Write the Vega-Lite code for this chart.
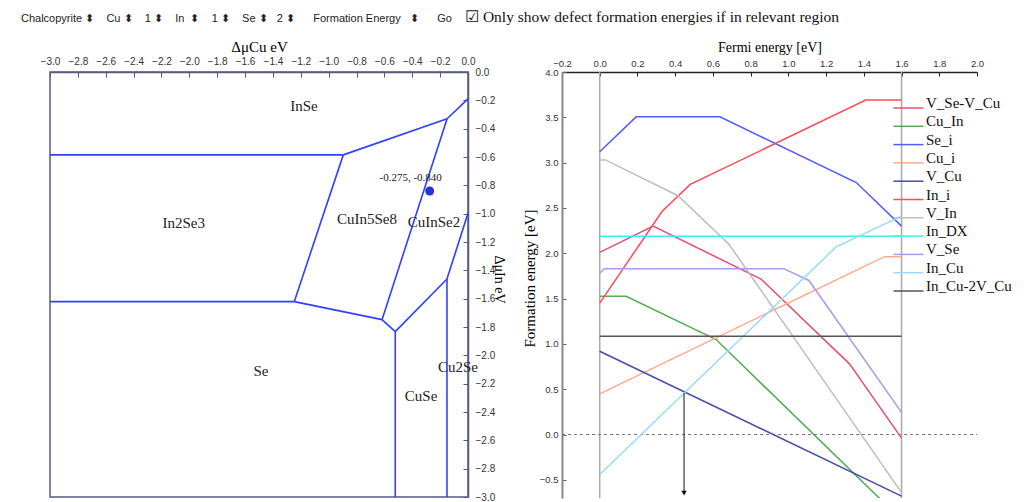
{
  "$schema": "https://vega.github.io/schema/vega-lite/v6.json",
  "background": "white",
  "padding": {"left": 20, "top": 10, "right": 0, "bottom": 0},
  "bounds": "flush",
  "spacing": 94,
  "resolve": {"scale": {"color": "independent"}, "legend": {"color": "independent"}},
  "config": {
    "view": {"stroke": null},
    "axis": {"grid": false, "labelFont": "Liberation Sans", "titleFont": "Liberation Serif", "titleFontWeight": "normal", "titleColor": "#000", "labelFlush": false, "labelOverlap": false}
  },
  "datasets": {
    "segments": [
      {"x": 0, "y": -0.19, "x2": -0.15, "y2": -0.33},
      {"x": -0.15, "y": -0.33, "x2": -0.895, "y2": -0.585},
      {"x": -0.895, "y": -0.585, "x2": -3, "y2": -0.585},
      {"x": -0.895, "y": -0.585, "x2": -1.247, "y2": -1.621},
      {"x": -1.247, "y": -1.621, "x2": -3, "y2": -1.621},
      {"x": -1.247, "y": -1.621, "x2": -0.617, "y2": -1.748},
      {"x": -0.15, "y": -0.33, "x2": -0.617, "y2": -1.748},
      {"x": -0.617, "y": -1.748, "x2": -0.522, "y2": -1.833},
      {"x": -0.522, "y": -1.833, "x2": -0.522, "y2": -3},
      {"x": -0.522, "y": -1.833, "x2": -0.151, "y2": -1.461},
      {"x": -0.151, "y": -1.461, "x2": -0.151, "y2": -3},
      {"x": -0.151, "y": -1.461, "x2": 0, "y2": -0.997}
    ],
    "regions": [
      {"name": "InSe", "x": -1.177, "y": -0.24},
      {"name": "In2Se3", "x": -2.04, "y": -1.066},
      {"name": "CuIn5Se8", "x": -0.725, "y": -1.04},
      {"name": "CuInSe2", "x": -0.244, "y": -1.06},
      {"name": "Se", "x": -1.486, "y": -2.11},
      {"name": "CuSe", "x": -0.337, "y": -2.29},
      {"name": "Cu2Se", "x": -0.072, "y": -2.085}
    ],
    "chosen": [
      {"x": -0.275, "y": -0.84, "label": "-0.275, -0.840"}
    ],
    "defects": [
      {"defect": "V_Se-V_Cu", "ef": 0, "e": 2.01},
      {"defect": "V_Se-V_Cu", "ef": 0.283, "e": 2.30},
      {"defect": "V_Se-V_Cu", "ef": 0.855, "e": 1.716},
      {"defect": "V_Se-V_Cu", "ef": 1.324, "e": 0.78},
      {"defect": "V_Se-V_Cu", "ef": 1.6, "e": -0.04},
      {"defect": "Cu_In", "ef": 0, "e": 1.526},
      {"defect": "Cu_In", "ef": 0.14, "e": 1.526},
      {"defect": "Cu_In", "ef": 0.617, "e": 1.048},
      {"defect": "Cu_In", "ef": 1.6, "e": -0.94},
      {"defect": "Se_i", "ef": 0, "e": 3.12},
      {"defect": "Se_i", "ef": 0.193, "e": 3.505},
      {"defect": "Se_i", "ef": 0.637, "e": 3.505},
      {"defect": "Se_i", "ef": 1.36, "e": 2.78},
      {"defect": "Se_i", "ef": 1.6, "e": 2.30},
      {"defect": "Cu_i", "ef": 0, "e": 0.449},
      {"defect": "Cu_i", "ef": 1.51, "e": 1.963},
      {"defect": "Cu_i", "ef": 1.6, "e": 1.963},
      {"defect": "V_Cu", "ef": 0, "e": 0.919},
      {"defect": "V_Cu", "ef": 1.6, "e": -0.68},
      {"defect": "In_i", "ef": 0, "e": 1.45},
      {"defect": "In_i", "ef": 0.33, "e": 2.46},
      {"defect": "In_i", "ef": 0.48, "e": 2.76},
      {"defect": "In_i", "ef": 1.41, "e": 3.69},
      {"defect": "In_i", "ef": 1.6, "e": 3.69},
      {"defect": "V_In", "ef": 0, "e": 3.03},
      {"defect": "V_In", "ef": 0.03, "e": 3.03},
      {"defect": "V_In", "ef": 0.415, "e": 2.635},
      {"defect": "V_In", "ef": 0.685, "e": 2.10},
      {"defect": "V_In", "ef": 1.6, "e": -0.64},
      {"defect": "In_DX", "ef": 0, "e": 2.187},
      {"defect": "In_DX", "ef": 1.6, "e": 2.187},
      {"defect": "V_Se", "ef": 0, "e": 1.78},
      {"defect": "V_Se", "ef": 0.024, "e": 1.83},
      {"defect": "V_Se", "ef": 0.976, "e": 1.83},
      {"defect": "V_Se", "ef": 1.109, "e": 1.70},
      {"defect": "V_Se", "ef": 1.6, "e": 0.245},
      {"defect": "In_Cu", "ef": 0, "e": -0.44},
      {"defect": "In_Cu", "ef": 1.253, "e": 2.07},
      {"defect": "In_Cu", "ef": 1.6, "e": 2.41},
      {"defect": "In_Cu-2V_Cu", "ef": 0, "e": 1.085},
      {"defect": "In_Cu-2V_Cu", "ef": 1.6, "e": 1.085}
    ],
    "bandedges": [{"ef": 0, "e": 4.0, "e2": -0.7}, {"ef": 1.6, "e": 4.0, "e2": -0.7}],
    "zero": [{"ef": -0.2, "ef2": 2.0, "e": 0}],
    "pinning": [{"ef": 0.447, "e": 0.46, "e2": -0.645}],
    "arrowhead": [{"ef": 0.447, "e": -0.645}]
  },
  "hconcat": [
    {
      "width": 418,
      "height": 425,
      "title": {"text": "Chalcopyrite ⬍\u00a0\u00a0\u00a0\u00a0Cu ⬍\u00a0\u00a0\u00a0\u00a01 ⬍\u00a0\u00a0\u00a0\u00a0In\u00a0\u00a0⬍\u00a0\u00a0\u00a0\u00a01 ⬍\u00a0\u00a0\u00a0\u00a0Se ⬍\u00a0\u00a0\u00a02 ⬍\u00a0\u00a0\u00a0\u00a0\u00a0\u00a0Formation Energy\u00a0\u00a0\u00a0⬍\u00a0\u00a0\u00a0\u00a0\u00a0\u00a0Go", "anchor": "start", "frame": "group", "dx": -29, "font": "Liberation Sans", "fontSize": 11, "fontWeight": "normal", "color": "#222", "offset": 15},
      "view": {"stroke": "#555a88", "strokeWidth": 1.5},
      "encoding": {
        "x": {"field": "x", "type": "quantitative", "scale": {"domain": [-3, 0], "nice": false, "zero": false},
          "axis": {"orient": "top", "title": "ΔμCu eV", "values": [-3, -2.8, -2.6, -2.4, -2.2, -2, -1.8, -1.6, -1.4, -1.2, -1, -0.8, -0.6, -0.4, -0.2, 0], "format": ".1f", "tickSize": -5, "labelPadding": 11, "labelOverlap": false, "domainColor": "#555a88", "domainWidth": 1.5, "tickColor": "#555a88", "labelFontSize": 10, "labelColor": "#333", "titleFontSize": 15, "titlePadding": 2}},
        "y": {"field": "y", "type": "quantitative", "scale": {"domain": [-3, 0], "nice": false, "zero": false},
          "axis": {"orient": "right", "title": "ΔμIn eV", "values": [0, -0.2, -0.4, -0.6, -0.8, -1, -1.2, -1.4, -1.6, -1.8, -2, -2.2, -2.4, -2.6, -2.8, -3], "format": ".1f", "tickSize": -5, "labelPadding": 12, "labelOverlap": false, "domainColor": "#555a88", "domainWidth": 1.5, "tickColor": "#555a88", "labelFontSize": 10, "labelColor": "#333", "titleFontSize": 14, "titleX": 30, "titleY": 207, "titleAngle": 90, "titleAlign": "center", "titleBaseline": "middle"}}
      },
      "layer": [
        {"data": {"name": "segments"}, "mark": {"type": "rule", "color": "#2f3fff", "strokeWidth": 1.6},
          "encoding": {"x2": {"field": "x2"}, "y2": {"field": "y2"}}},
        {"data": {"name": "chosen"}, "mark": {"type": "point", "filled": true, "color": "#2233dd", "size": 80, "opacity": 1}},
        {"data": {"name": "chosen"}, "mark": {"type": "text", "font": "Liberation Serif", "fontSize": 11, "color": "#222", "dx": -19, "dy": -13},
          "encoding": {"text": {"field": "label"}}},
        {"data": {"name": "regions"}, "mark": {"type": "text", "font": "Liberation Serif", "fontSize": 15, "color": "#222", "baseline": "middle"},
          "encoding": {"text": {"field": "name"}}}
      ]
    },
    {
      "width": 415,
      "height": 426,
      "title": {"text": "☑ Only show defect formation energies if in relevant region", "anchor": "start", "frame": "group", "dx": -97, "font": "Liberation Serif", "fontSize": 15.5, "fontWeight": "normal", "color": "#111", "offset": 15},
      "encoding": {
        "x": {"field": "ef", "type": "quantitative", "scale": {"domain": [-0.2, 2.0], "nice": false, "zero": false},
          "axis": {"orient": "top", "title": "Fermi energy [eV]", "values": [-0.2, 0, 0.2, 0.4, 0.6, 0.8, 1, 1.2, 1.4, 1.6, 1.8, 2], "format": ".1f", "tickSize": -4, "labelPadding": 7.5, "labelOverlap": false, "domainColor": "#222", "domainWidth": 1.5, "tickColor": "#222", "labelFontSize": 9.5, "labelColor": "#333", "titleFontSize": 14, "titlePadding": 4}},
        "y": {"field": "e", "type": "quantitative", "scale": {"domain": [-0.7, 4.0], "nice": false, "zero": false},
          "axis": {"orient": "left", "title": "Formation energy [eV]", "values": [-0.5, 0, 0.5, 1, 1.5, 2, 2.5, 3, 3.5, 4], "format": ".1f", "tickSize": -4, "labelPadding": 8, "labelOverlap": false, "domainColor": "#888", "domainWidth": 2, "tickColor": "#666", "labelFontSize": 9.5, "labelColor": "#333", "titleFontSize": 15, "titlePadding": 2, "titleY": 206}}
      },
      "layer": [
        {"data": {"name": "bandedges"}, "mark": {"type": "rule", "color": "#aaaaaa", "strokeWidth": 1.5},
          "encoding": {"y2": {"field": "e2"}}},
        {"data": {"name": "zero"}, "mark": {"type": "rule", "color": "#777777", "strokeWidth": 1, "strokeDash": [3, 3]},
          "encoding": {"x2": {"field": "ef2"}}},
        {"data": {"name": "defects"}, "mark": {"type": "line", "strokeWidth": 1.5, "clip": true},
          "encoding": {
            "color": {"field": "defect", "type": "nominal",
              "scale": {"domain": ["V_Se-V_Cu", "Cu_In", "Se_i", "Cu_i", "V_Cu", "In_i", "V_In", "In_DX", "V_Se", "In_Cu", "In_Cu-2V_Cu"],
                "range": ["#e4506e", "#55aa55", "#4f5dff", "#ffaa8c", "#4a4aaa", "#ff4a55", "#bdbdbd", "#3ceeee", "#aa99ee", "#99d8ff", "#555555"]},
              "legend": {"orient": "none", "legendX": 339, "legendY": 28.5, "title": null, "symbolType": "M-3,0H3", "symbolSize": 100, "symbolStrokeWidth": 1.5, "labelFont": "Liberation Serif", "labelFontSize": 15, "labelColor": "#111", "labelBaseline": "alphabetic", "labelOffset": 10, "rowPadding": 2.3, "padding": 0, "labelLimit": 0}}
          }},
        {"data": {"name": "pinning"}, "mark": {"type": "rule", "color": "#111", "strokeWidth": 1},
          "encoding": {"y2": {"field": "e2"}}},
        {"data": {"name": "arrowhead"}, "mark": {"type": "point", "shape": "triangle-down", "filled": true, "color": "#111", "size": 30, "opacity": 1}}
      ]
    }
  ]
}
